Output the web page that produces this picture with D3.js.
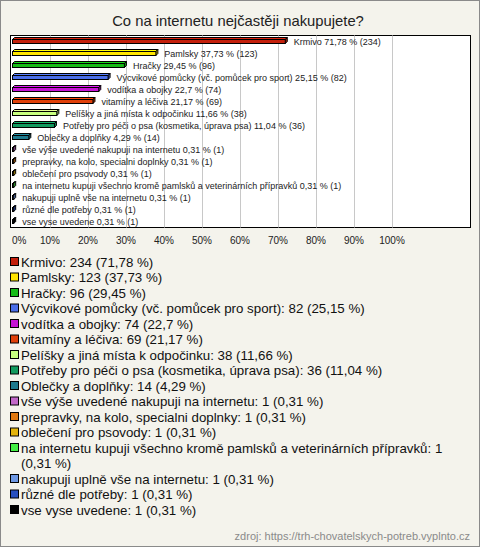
<!DOCTYPE html>
<html>
<head>
<meta charset="utf-8">
<script src="https://cdn.jsdelivr.net/npm/d3@7"></script>
<style>
  html, body { margin: 0; padding: 0; background: #f4f3ec; }
  svg { display: block; }
  text { font-family: "Liberation Sans", Arial, sans-serif; }
</style>
</head>
<body>
<script>
const title = "Co na internetu nejčastěji nakupujete?";
const categories = [
  "Krmivo", "Pamlsky", "Hračky", "Výcvikové pomůcky (vč. pomůcek pro sport)",
  "vodítka a obojky", "vitamíny a léčiva", "Pelíšky a jiná místa k odpočinku",
  "Potřeby pro péči o psa (kosmetika, úprava psa)", "Oblečky a doplňky",
  "vše výše uvedené nakupuji na internetu", "prepravky, na kolo, specialni doplnky",
  "oblečení pro psovody", "na internetu kupuji všechno kromě pamlsků a veterinárních přípravků",
  "nakupuji uplně vše na internetu", "různé dle potřeby", "vse vyse uvedene"
];
const counts = [234, 123, 96, 82, 74, 69, 38, 36, 14, 1, 1, 1, 1, 1, 1, 1];
const percents = [71.78, 37.73, 29.45, 25.15, 22.7, 21.17, 11.66, 11.04, 4.29, 0.31, 0.31, 0.31, 0.31, 0.31, 0.31, 0.31];
const colors = ["#c4200c", "#ffe500", "#16bb16", "#4a6ee8", "#c414d4", "#e0400a", "#c8ff80", "#119a5e",
                "#1e7a8e", "#c268c8", "#e07810", "#e4b40c", "#44ee44", "#6e98e4", "#2850c0", "#000000"];
const tickValues = [0, 10, 20, 30, 40, 50, 60, 70, 80, 90, 100];
const source = "zdroj: https://trh-chovatelskych-potreb.vyplnto.cz";

const W = 480, H = 547;
const fmt = v => String(v).replace(".", ",");

const svg = d3.select("body").append("svg").attr("width", W).attr("height", H);
svg.append("rect").attr("x", 0.5).attr("y", 0.5).attr("width", W - 1).attr("height", H - 1)
  .attr("fill", "#f4f3ec").attr("stroke", "#8a8a8a");

svg.append("text").attr("x", 238).attr("y", 26).attr("text-anchor", "middle")
  .attr("font-size", 14.8).attr("fill", "#222").text(title);

// plot area
const box = {x: 10.5, y: 35.5, w: 460, h: 192};
svg.append("rect").attr("x", box.x).attr("y", box.y).attr("width", box.w).attr("height", box.h)
  .attr("fill", "#fff").attr("stroke", "#000");

const x = d3.scaleLinear().domain([0, 100]).range([12, 392]);
const y = d3.scaleBand().domain(d3.range(categories.length)).range([35, 227]);

// gridlines
svg.append("g").selectAll("line").data(tickValues.slice(1)).join("line")
  .attr("x1", d => Math.round(x(d)) + 0.5).attr("x2", d => Math.round(x(d)) + 0.5)
  .attr("y1", box.y).attr("y2", box.y + box.h)
  .attr("stroke", "#c8c8c8");

// tick labels
svg.append("g").selectAll("text").data(tickValues).join("text")
  .attr("x", d => x(d))
  .attr("y", 244)
  .attr("text-anchor", (d, i) => i === 0 ? "start" : "middle")
  .attr("font-size", 10).attr("fill", "#222")
  .text(d => d + "%");

// bars (3D style)
const dep = 2;
const bars = svg.append("g");
categories.forEach((c, i) => {
  const cy = y(i) + y.bandwidth() / 2;
  const x0 = x(0) + 0.5, x1 = x(percents[i]) + 0.5;
  const yt = Math.round(cy) - 1.5, yb = yt + 4;
  const col = colors[i];
  const lighter = d3.color(col).brighter(0.4);
  bars.append("path")
    .attr("d", `M${x0},${yt}L${x0 + dep},${yt - dep}L${x1 + dep},${yt - dep}L${x1},${yt}Z`)
    .attr("fill", lighter).attr("stroke", "#000").attr("stroke-width", 1);
  bars.append("path")
    .attr("d", `M${x1},${yt}L${x1 + dep},${yt - dep}L${x1 + dep},${yb - dep}L${x1},${yb}Z`)
    .attr("fill", d3.color(col).darker(0.5)).attr("stroke", "#000").attr("stroke-width", 1);
  bars.append("rect").attr("x", x0).attr("y", yt).attr("width", Math.max(0, x1 - x0)).attr("height", yb - yt)
    .attr("fill", col).attr("stroke", "#000").attr("stroke-width", 1);
  bars.append("text").attr("x", x(percents[i]) + 9).attr("y", cy + 3.5)
    .attr("font-size", 9).attr("fill", "#222")
    .text(`${c} ${fmt(percents[i])} % (${counts[i]})`);
});

// legend
const lg = svg.append("g");
let ly = 262;
const lineH = 15.5, maxW = 450;
categories.forEach((c, i) => {
  lg.append("rect").attr("x", 10.5).attr("y", ly - 4.5).attr("width", 8).attr("height", 8)
    .attr("fill", colors[i]).attr("stroke", "#000");
  const words = `${c}: ${counts[i]}`.split(" ");
  words.push(`(${fmt(percents[i])}\u00a0%)`);
  let line = "";
  const t = lg.append("text").attr("x", 21).attr("y", ly + 4.5).attr("font-size", 13.3).attr("fill", "#111");
  let lines = [];
  words.forEach(w => {
    const test = line ? line + " " + w : w;
    t.text(test);
    if (t.node().getComputedTextLength() > maxW && line) {
      lines.push(line); line = w;
    } else line = test;
  });
  lines.push(line);
  t.text(null);
  lines.forEach((l, k) => {
    t.append("tspan").attr("x", 21).attr("y", ly + 4.5 + k * lineH).text(l);
  });
  ly += lineH * lines.length;
});

svg.append("text").attr("x", 470).attr("y", 540).attr("text-anchor", "end")
  .attr("font-size", 11).attr("fill", "#8a8a8a").text(source);
</script>
</body>
</html>
